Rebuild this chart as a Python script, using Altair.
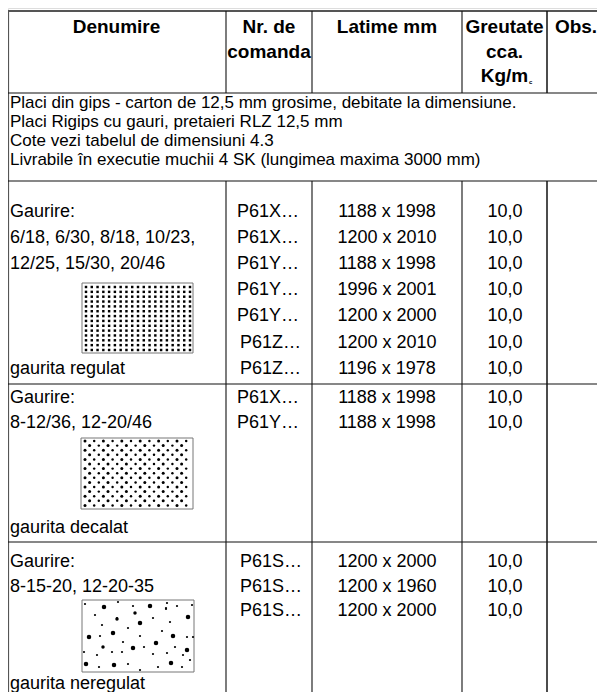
import altair as alt
import pandas as pd

# ---------------- data ----------------
header_texts = ["Denumire", "Nr. de", "comanda", "Latime mm", "Greutate", "cca.", "Kg/m", "Obs."]
header_col = [0, 1, 1, 2, 3, 3, 3, 4]
header_line = [0, 0, 1, 0, 0, 1, 2, 0]

intro_lines = [
    "Placi din gips - carton de 12,5 mm grosime, debitate la dimensiune.",
    "Placi Rigips cu gauri, pretaieri RLZ 12,5 mm",
    "Cote vezi tabelul de dimensiuni 4.3",
    "Livrabile în executie muchii 4 SK (lungimea maxima 3000 mm)",
]

g1_names = ["Gaurire:", "6/18, 6/30, 8/18, 10/23,", "12/25, 15/30, 20/46"]
g1_caption = "gaurita regulat"
g1_codes = ["P61X…", "P61X…", "P61Y…", "P61Y…", "P61Y…", "P61Z…", "P61Z…"]
g1_sizes = ["1188 x 1998", "1200 x 2010", "1188 x 1998", "1996 x 2001",
            "1200 x 2000", "1200 x 2010", "1196 x 1978"]
g1_weights = ["10,0", "10,0", "10,0", "10,0", "10,0", "10,0", "10,0"]

g2_names = ["Gaurire:", "8-12/36, 12-20/46"]
g2_caption = "gaurita decalat"
g2_codes = ["P61X…", "P61Y…"]
g2_sizes = ["1188 x 1998", "1188 x 1998"]
g2_weights = ["10,0", "10,0"]

g3_names = ["Gaurire:", "8-15-20, 12-20-35"]
g3_caption = "gaurita neregulat"
g3_codes = ["P61S…", "P61S…", "P61S…"]
g3_sizes = ["1200 x 2000", "1200 x 1960", "1200 x 2000"]
g3_weights = ["10,0", "10,0", "10,0"]

# irregular perforation dots (x, y, size)
irr_x = [85, 104, 118, 133, 150, 167, 166, 177, 192,
         95, 117, 135, 153, 188, 166,
         102, 117, 140, 170,
         128, 113, 162, 89, 100, 140, 173, 187, 193,
         123, 156, 175, 103, 133, 144, 187,
         84, 97, 112, 122, 153, 167, 183,
         190, 86, 99, 114, 128, 140, 158, 171, 182]
irr_y = [604, 607, 602, 606, 606, 603, 608, 606, 605,
         615, 618, 613, 618, 617, 609,
         625, 619, 623, 622,
         628, 633, 631, 637, 636, 636, 636, 637, 637,
         642, 643, 647, 647, 648, 647, 650,
         652, 655, 652, 652, 654, 653, 655,
         660, 664, 667, 665, 664, 670, 667, 663, 667]
irr_s = [5, 20, 5, 5, 20, 5, 5, 5, 5,
         5, 5, 12, 5, 20, 5,
         5, 12, 20, 5,
         5, 20, 5, 20, 5, 5, 20, 5, 5,
         5, 20, 5, 12, 20, 5, 20,
         5, 5, 5, 5, 5, 5, 5,
         5, 20, 5, 20, 5, 5, 5, 20, 5]

# ---------------- layout ----------------
VX0, VX1 = 8, 597
VY0, VY1 = 8, 692
col_edges = [7, 226, 312, 462, 547, 605]
row_edges = [11, 93, 181, 384, 542, 700]
FONT = "Liberation Sans"
FS = 18
IFS = 17
HFS = 19

col_center = [(col_edges[i] + col_edges[i + 1]) / 2 for i in range(5)]

# rules
rules = []
def rule(x, y, x2, y2, w=1.0, c="#111111"):
    rules.append(dict(x=x, y=y, x2=x2, y2=y2, w=w, c=c))

rule(col_edges[0], row_edges[0], col_edges[-1], row_edges[0], 2, "#555555")
rule(col_edges[0] + 1, row_edges[0], col_edges[0] + 1, VY1, 2.2, "#555555")
for yv in row_edges[1:5]:
    rule(col_edges[0], yv, col_edges[-1], yv, 1.2)
for xv in col_edges[1:5]:
    w = 1.5 if xv == 547 else 1.1
    rule(xv, row_edges[0], xv, row_edges[1], w)
    rule(xv, row_edges[2], xv, VY1, w)

# picture frames
frames = [(82, 283, 193, 353), (81, 438, 193, 509), (82, 600, 194, 672)]
for (a, b, c_, d) in frames:
    rule(a, b, c_, b, 1, "#777777")
    rule(a, d, c_, d, 1, "#777777")
    rule(a, b, a, d, 1, "#777777")
    rule(c_, b, c_, d, 1, "#777777")

rules_df = pd.DataFrame(rules)

# header text
hdr_y = [27, 52, 76]
hdr_df = pd.DataFrame(dict(
    t=header_texts,
    x=[col_center[c] for c in header_col],
    y=[hdr_y[l] for l in header_line],
))
sub_df = pd.DataFrame(dict(t=["c"], x=[529], y=[82]))

# intro text
intro_y0, intro_dy = 103, 19
intro_df = pd.DataFrame(dict(
    t=intro_lines,
    x=[10] * len(intro_lines),
    y=[intro_y0 + i * intro_dy for i in range(len(intro_lines))],
))

# body text
left_rows, center_rows = [], []
groups = [
    (g1_names, g1_caption, g1_codes, g1_sizes, g1_weights, 212, 26.1, 369),
    (g2_names, g2_caption, g2_codes, g2_sizes, g2_weights, 398, 25.0, 528),
    (g3_names, g3_caption, g3_codes, g3_sizes, g3_weights, 562, 24.5, 684),
]
for names, cap, codes, sizes, weights, y0, dy, ycap in groups:
    for i, t in enumerate(names):
        left_rows.append(dict(t=t, x=10, y=y0 + i * dy))
    left_rows.append(dict(t=cap, x=10, y=ycap))
    for i, t in enumerate(codes):
        xo = 240 if ("Z" in t or "S" in t) else 237
        left_rows.append(dict(t=t, x=xo, y=y0 + i * dy))
    for i, t in enumerate(sizes):
        center_rows.append(dict(t=t, x=col_center[2], y=y0 + i * dy))
    for i, t in enumerate(weights):
        center_rows.append(dict(t=t, x=505, y=y0 + i * dy))

left_df = pd.DataFrame(left_rows)
center_df = pd.DataFrame(center_rows)

# dots: regular grid
reg = []
ncol, nrow = 19, 14
for r in range(nrow):
    for c in range(ncol):
        reg.append(dict(x=86 + c * (104 / (ncol - 1)), y=287 + r * (63 / (nrow - 1)), s=6))
reg_df = pd.DataFrame(reg)

# staggered grid
stg = []
for r in range(15):
    off = 4.6 if r % 2 else 0
    c = 0
    while True:
        xv = 85 + c * 9.2 + off
        if xv > 190:
            break
        stg.append(dict(x=xv, y=441 + r * 4.6, s=9 if c % 2 == 0 else 6))
        c += 1
stg_df = pd.DataFrame(stg)

irr_df = pd.DataFrame(dict(x=irr_x, y=irr_y, s=irr_s))

# ---------------- chart ----------------
xs = alt.Scale(domain=[VX0, VX1])
ys = alt.Scale(domain=[VY0, VY1], reverse=True)
X = lambda f="x": alt.X(f"{f}:Q", scale=xs, axis=None)
Y = lambda f="y": alt.Y(f"{f}:Q", scale=ys, axis=None)

rule_layer = alt.Chart(rules_df).mark_rule(clip=True).encode(
    x=X(), y=Y(), x2="x2:Q", y2="y2:Q",
    strokeWidth=alt.StrokeWidth("w:Q", scale=None),
    color=alt.Color("c:N", scale=None),
)

hdr_layer = alt.Chart(hdr_df).mark_text(
    font=FONT, fontSize=HFS, fontWeight="bold", align="center", baseline="middle", color="#000"
).encode(x=X(), y=Y(), text="t:N")

sub_layer = alt.Chart(sub_df).mark_text(
    font=FONT, fontSize=6, fontWeight="bold", align="left", baseline="middle", color="#000"
).encode(x=X(), y=Y(), text="t:N")

intro_layer = alt.Chart(intro_df).mark_text(
    font=FONT, fontSize=IFS, align="left", baseline="middle", color="#000"
).encode(x=X(), y=Y(), text="t:N")

left_layer = alt.Chart(left_df).mark_text(
    font=FONT, fontSize=FS, align="left", baseline="middle", color="#000"
).encode(x=X(), y=Y(), text="t:N")

center_layer = alt.Chart(center_df).mark_text(
    font=FONT, fontSize=FS, align="center", baseline="middle", color="#000"
).encode(x=X(), y=Y(), text="t:N")

reg_layer = alt.Chart(reg_df).mark_square(color="#000", opacity=1).encode(
    x=X(), y=Y(), size=alt.Size("s:Q", scale=None))
stg_layer = alt.Chart(stg_df).mark_circle(color="#000", opacity=1).encode(
    x=X(), y=Y(), size=alt.Size("s:Q", scale=None))
irr_layer = alt.Chart(irr_df).mark_circle(color="#000", opacity=1).encode(
    x=X(), y=Y(), size=alt.Size("s:Q", scale=None))

chart = alt.layer(
    rule_layer, reg_layer, stg_layer, irr_layer,
    hdr_layer, sub_layer, intro_layer, left_layer, center_layer,
).properties(
    width=VX1 - VX0, height=VY1 - VY0,
    autosize=alt.AutoSizeParams(type="none"), padding=0,
).configure_view(stroke=None).configure(background="white")

chart.save("out.html", embed_options={"renderer": "svg", "actions": False})
